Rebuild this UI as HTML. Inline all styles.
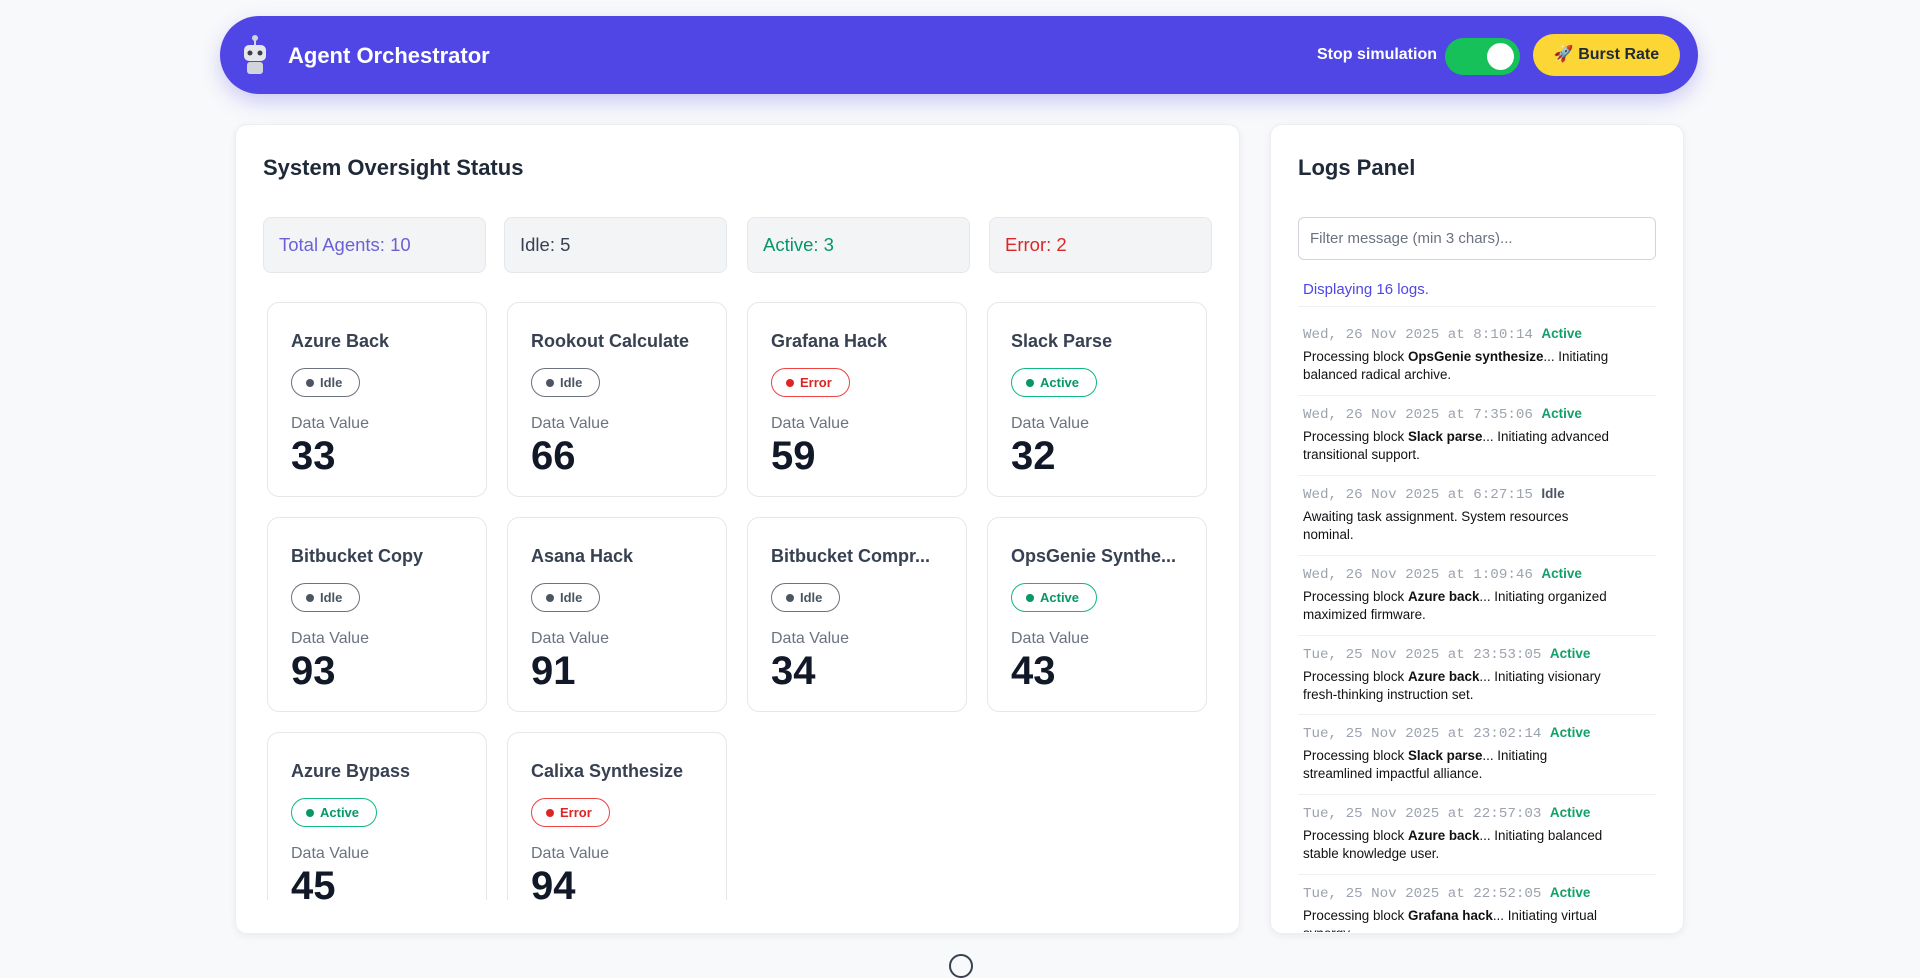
<!DOCTYPE html>
<html><head><meta charset="utf-8"><style>
*{box-sizing:border-box;margin:0;padding:0}
body{width:1920px;height:960px;background:#f8f9fb;font-family:"Liberation Sans",sans-serif;position:relative;overflow:hidden;color:#1f2937}
.hdr{position:absolute;left:220px;top:16px;width:1478px;height:78px;background:#4f46e5;border-radius:39px;box-shadow:0 8px 20px rgba(79,70,229,.25)}
.hdr .t{position:absolute;left:68px;top:27px;color:#fff;font-size:22px;font-weight:bold}
.stop{position:absolute;left:1097px;top:30px;color:#fff;font-size:16px;font-weight:bold}
.tog{position:absolute;left:1225px;top:22px;width:75px;height:37px;border-radius:19px;background:#16c15a}
.tog:after{content:"";position:absolute;right:6px;top:5px;width:27px;height:27px;border-radius:50%;background:#fff}
.burst{position:absolute;left:1313px;top:18px;width:147px;height:42px;border-radius:21px;background:#fcd634;font-size:16px;font-weight:bold;color:#1f2937;text-align:center;line-height:42px}
.panel{position:absolute;top:124px;height:810px;background:#fff;border-radius:12px;border:1px solid #eceef2;box-shadow:0 2px 8px rgba(0,0,0,.06);overflow:hidden}
.h2{position:absolute;font-size:22px;font-weight:bold;color:#1f2937}
.stat{position:absolute;top:217px;width:223px;height:56px;background:#f3f4f6;border:1px solid #e5e7eb;border-radius:8px;font-size:18.5px;line-height:54px;padding-left:15px}
.card{position:absolute;width:220px;height:195px;background:#fff;border:1px solid #e5e7eb;border-radius:12px}
.card .n{position:absolute;left:23px;top:28px;font-size:18px;font-weight:bold;color:#374151;white-space:nowrap}
.badge{position:absolute;left:23px;top:65px;height:29px;border-radius:15px;border:1px solid #6b7280;font-size:13px;font-weight:bold;line-height:27px;padding:0 17px 0 14px;color:#4b5563}
.badge:before{content:"";display:inline-block;width:8px;height:8px;border-radius:50%;background:currentColor;margin-right:6px;vertical-align:0}
.badge.a{color:#059669;border-color:#10b981}
.badge.e{color:#dc2626;border-color:#ef4444}
.card .dv{position:absolute;left:23px;top:112px;font-size:16px;color:#6b7280}
.card .v{position:absolute;left:23px;top:131px;font-size:40px;font-weight:bold;color:#111827}
.log{position:absolute;left:1303px;width:360px;font-size:13.4px;line-height:18px;color:#111;white-space:nowrap}
.log .ts{font-family:"Liberation Mono",monospace;color:#9ca3af;font-size:14.2px;margin-bottom:4px}
.log .ts b{font-family:"Liberation Sans",sans-serif;color:#10a06a;font-weight:bold;font-size:13.5px}
.log .ts b.i{color:#4b5563}
.div{position:absolute;left:1298px;width:358px;height:1px;background:#eef0f3}
</style></head><body>
<div class="hdr">
<svg style="position:absolute;left:20px;top:18px" width="30" height="42" viewBox="0 0 30 42"><circle cx="15" cy="4" r="3" fill="#d1d5db"/><rect x="14" y="5" width="2" height="6" fill="#d1d5db"/><rect x="4" y="11" width="22" height="16" rx="5" fill="#e5e7eb"/><circle cx="10" cy="19" r="2.5" fill="#374151"/><circle cx="20" cy="19" r="2.5" fill="#374151"/><rect x="7" y="28" width="16" height="12" rx="3" fill="#d1d5db"/></svg>
<div class="t">Agent Orchestrator</div>
<div class="stop">Stop simulation</div>
<div class="tog"></div>
<div class="burst">🚀 Burst Rate</div>
</div>

<div class="panel" style="left:235px;width:1005px"></div>
<div class="h2" style="left:263px;top:155px">System Oversight Status</div>
<div class="stat" style="left:263px;color:#6d5fd6">Total Agents: 10</div>
<div class="stat" style="left:504px;color:#374151">Idle: 5</div>
<div class="stat" style="left:747px;color:#059669">Active: 3</div>
<div class="stat" style="left:989px;color:#dc2626">Error: 2</div>

<div style="position:absolute;left:0;top:0;width:1240px;height:900px;overflow:hidden">
<div class="card" style="left:267px;top:302px"><div class="n">Azure Back</div><div class="badge">Idle</div><div class="dv">Data Value</div><div class="v">33</div></div>
<div class="card" style="left:507px;top:302px"><div class="n">Rookout Calculate</div><div class="badge">Idle</div><div class="dv">Data Value</div><div class="v">66</div></div>
<div class="card" style="left:747px;top:302px"><div class="n">Grafana Hack</div><div class="badge e">Error</div><div class="dv">Data Value</div><div class="v">59</div></div>
<div class="card" style="left:987px;top:302px"><div class="n">Slack Parse</div><div class="badge a">Active</div><div class="dv">Data Value</div><div class="v">32</div></div>
<div class="card" style="left:267px;top:517px"><div class="n">Bitbucket Copy</div><div class="badge">Idle</div><div class="dv">Data Value</div><div class="v">93</div></div>
<div class="card" style="left:507px;top:517px"><div class="n">Asana Hack</div><div class="badge">Idle</div><div class="dv">Data Value</div><div class="v">91</div></div>
<div class="card" style="left:747px;top:517px"><div class="n">Bitbucket Compr...</div><div class="badge">Idle</div><div class="dv">Data Value</div><div class="v">34</div></div>
<div class="card" style="left:987px;top:517px"><div class="n">OpsGenie Synthe...</div><div class="badge a">Active</div><div class="dv">Data Value</div><div class="v">43</div></div>
<div class="card" style="left:267px;top:732px"><div class="n">Azure Bypass</div><div class="badge a">Active</div><div class="dv">Data Value</div><div class="v">45</div></div>
<div class="card" style="left:507px;top:732px"><div class="n">Calixa Synthesize</div><div class="badge e">Error</div><div class="dv">Data Value</div><div class="v">94</div></div>
</div>

<div class="panel" style="left:1270px;width:414px"></div>
<div class="h2" style="left:1298px;top:155px">Logs Panel</div>
<div style="position:absolute;left:1298px;top:217px;width:358px;height:43px;border:1px solid #d1d5db;border-radius:6px;font-size:15px;color:#6b7280;line-height:41px;padding-left:11px">Filter message (min 3 chars)...</div>
<div style="position:absolute;left:1303px;top:281px;font-size:15px;color:#4f46e5">Displaying 16 logs.</div>
<div class="div" style="top:306px"></div>
<div style="position:absolute;left:0;top:0;width:1920px;height:932px;overflow:hidden">
<div class="log" style="top:325px"><div class="ts">Wed, 26 Nov 2025 at 8:10:14 <b>Active</b></div>Processing block <b>OpsGenie synthesize</b>... Initiating<br>balanced radical archive.</div>
<div class="div" style="top:395px"></div>
<div class="log" style="top:405px"><div class="ts">Wed, 26 Nov 2025 at 7:35:06 <b>Active</b></div>Processing block <b>Slack parse</b>... Initiating advanced<br>transitional support.</div>
<div class="div" style="top:475px"></div>
<div class="log" style="top:485px"><div class="ts">Wed, 26 Nov 2025 at 6:27:15 <b class="i">Idle</b></div>Awaiting task assignment. System resources<br>nominal.</div>
<div class="div" style="top:555px"></div>
<div class="log" style="top:565px"><div class="ts">Wed, 26 Nov 2025 at 1:09:46 <b>Active</b></div>Processing block <b>Azure back</b>... Initiating organized<br>maximized firmware.</div>
<div class="div" style="top:635px"></div>
<div class="log" style="top:645px"><div class="ts">Tue, 25 Nov 2025 at 23:53:05 <b>Active</b></div>Processing block <b>Azure back</b>... Initiating visionary<br>fresh-thinking instruction set.</div>
<div class="div" style="top:714px"></div>
<div class="log" style="top:724px"><div class="ts">Tue, 25 Nov 2025 at 23:02:14 <b>Active</b></div>Processing block <b>Slack parse</b>... Initiating<br>streamlined impactful alliance.</div>
<div class="div" style="top:794px"></div>
<div class="log" style="top:804px"><div class="ts">Tue, 25 Nov 2025 at 22:57:03 <b>Active</b></div>Processing block <b>Azure back</b>... Initiating balanced<br>stable knowledge user.</div>
<div class="div" style="top:874px"></div>
<div class="log" style="top:884px"><div class="ts">Tue, 25 Nov 2025 at 22:52:05 <b>Active</b></div>Processing block <b>Grafana hack</b>... Initiating virtual<br>synergy.</div>
</div>
<div style="position:absolute;left:949px;top:954px;width:24px;height:24px;border-radius:50%;border:2px solid #374151"></div>
</body></html>
